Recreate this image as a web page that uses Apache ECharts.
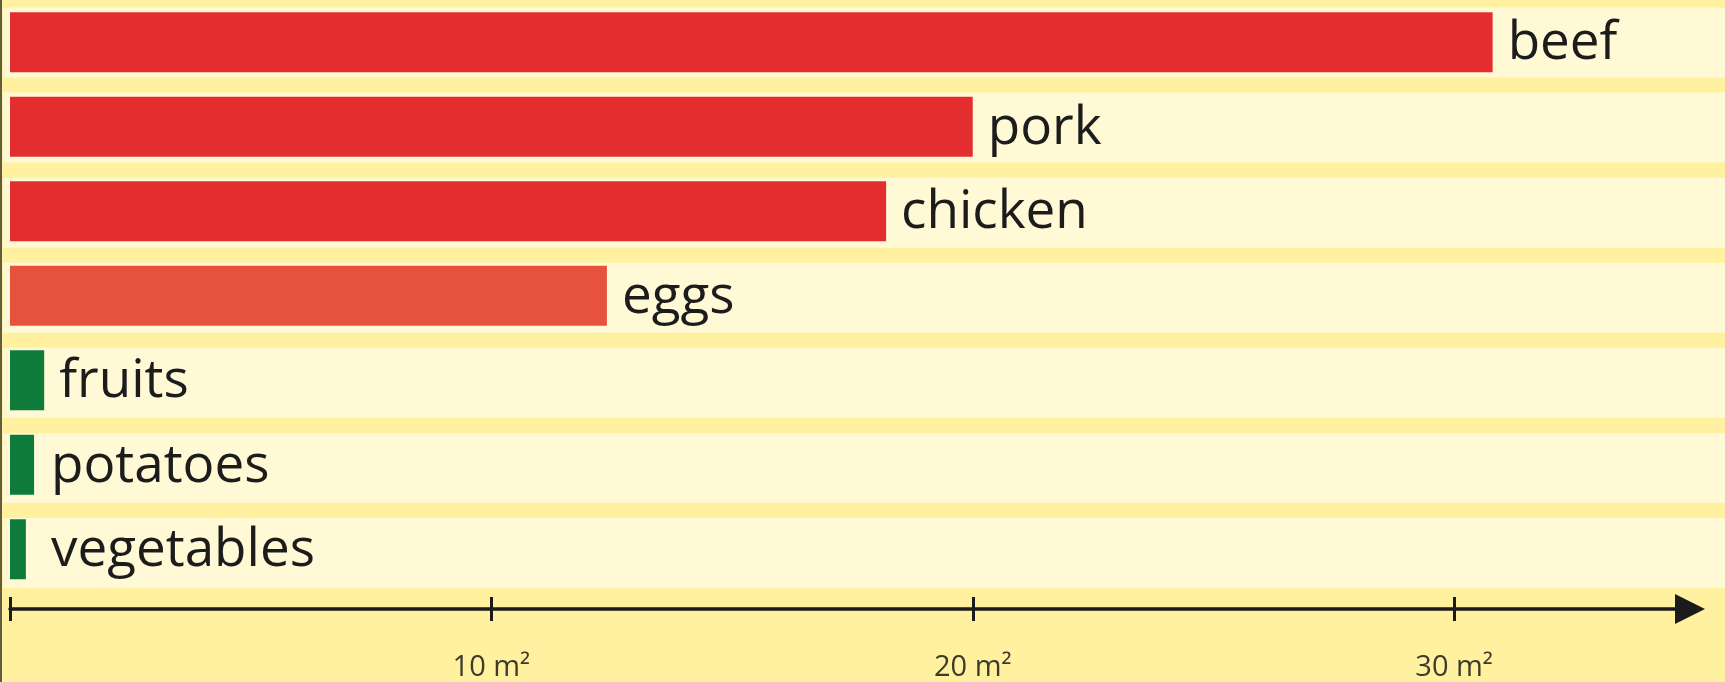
<!DOCTYPE html>
<html>
<head>
<meta charset="utf-8">
<title>Land needed per food</title>
<script src="https://cdn.jsdelivr.net/npm/echarts@6/dist/echarts.min.js"></script>
<style>
  html, body { margin: 0; padding: 0; background: #fff1a0; }
  #wrap { position: relative; width: 1725px; height: 682px; }
  #chart { width: 1725px; height: 682px; }
  #edge { position: absolute; left: 0; top: 0; width: 2px; height: 682px; background: #625d40; }
</style>
</head>
<body>
<div id="wrap"><div id="chart"></div><div id="edge"></div></div>
<script>
// Foods, top to bottom
const categories = ['beef', 'pork', 'chicken', 'eggs', 'fruits', 'potatoes', 'vegetables'];
// Area in square metres
const areaValues = [30.8, 20.0, 18.2, 12.4, 0.71, 0.5, 0.33];
// Food group of each row (decides the bar colour)
const groups = ['meat', 'meat', 'meat', 'animal', 'plant', 'plant', 'plant'];
// Axis ticks and labelled ticks
const tickValues = [0, 10, 20, 30];
const tickLabels = [10, 20, 30];
const unit = 'm²';

const groupColors = { meat: '#e42d2f', animal: '#e7523f', plant: '#0f7b3b' };
const AXIS_MAX = 34.9;
const LABEL_GAP = 15;
const LABEL_MIN_X = 51;

const chart = echarts.init(document.getElementById('chart'), null, { renderer: 'canvas' });

const barData = areaValues.map((v, i) => ({
  value: v,
  itemStyle: { color: groupColors[groups[i]] }
}));

const axisColor = '#1b1b1b';

chart.setOption({
  backgroundColor: '#fff1a0',
  animation: false,
  grid: [
    { left: 3, right: 0, top: -1.5, bottom: 86.5, containLabel: false },
    { left: 10, right: 35, top: -1.5, bottom: 86.5, containLabel: false }
  ],
  xAxis: [
    { gridIndex: 0, type: 'value', min: 0, max: 1, show: false },
    {
      gridIndex: 1, type: 'value', min: 0, max: AXIS_MAX, position: 'bottom', offset: 17.5,
      axisLine: {
        show: true,
        symbol: ['none', 'triangle'],
        symbolSize: [30, 30],
        lineStyle: { color: axisColor, width: 3.5 }
      },
      axisTick: {
        show: true, inside: false, length: 12, customValues: tickValues,
        lineStyle: { color: axisColor, width: 3 }
      },
      axisLabel: {
        show: true, customValues: tickLabels, margin: 44,
        formatter: v => v + ' ' + unit,
        fontFamily: 'Open Sans', fontSize: 29, color: '#3c3a28'
      },
      splitLine: { show: false }
    },
    {
      gridIndex: 1, type: 'value', min: 0, max: AXIS_MAX, position: 'bottom', offset: 17.5,
      axisLine: { show: false },
      axisTick: {
        show: true, inside: true, length: 12, customValues: tickValues,
        lineStyle: { color: axisColor, width: 3 }
      },
      axisLabel: { show: false },
      splitLine: { show: false }
    }
  ],
  yAxis: [
    { gridIndex: 0, type: 'category', data: categories, inverse: true, show: false },
    { gridIndex: 1, type: 'category', data: categories, inverse: true, show: false }
  ],
  series: [
    {
      // pale row bands behind each bar
      type: 'bar', xAxisIndex: 0, yAxisIndex: 0,
      data: categories.map(() => 1),
      barWidth: 70, silent: true, z: 1,
      itemStyle: { color: '#fff9d6' }
    },
    {
      type: 'bar', xAxisIndex: 1, yAxisIndex: 1,
      data: barData, barWidth: 60, z: 3,
      label: {
        show: true, position: 'right', formatter: '{b}',
        fontFamily: 'Open Sans', fontSize: 53, color: '#1c1c1c'
      },
      labelLayout: function (p) {
        const r = p.rect;
        const x = Math.max(r.x + r.width + LABEL_GAP, LABEL_MIN_X);
        return { x: x, y: r.y + r.height / 2 + 2, align: 'left', verticalAlign: 'middle' };
      }
    }
  ]
});
</script>
</body>
</html>
